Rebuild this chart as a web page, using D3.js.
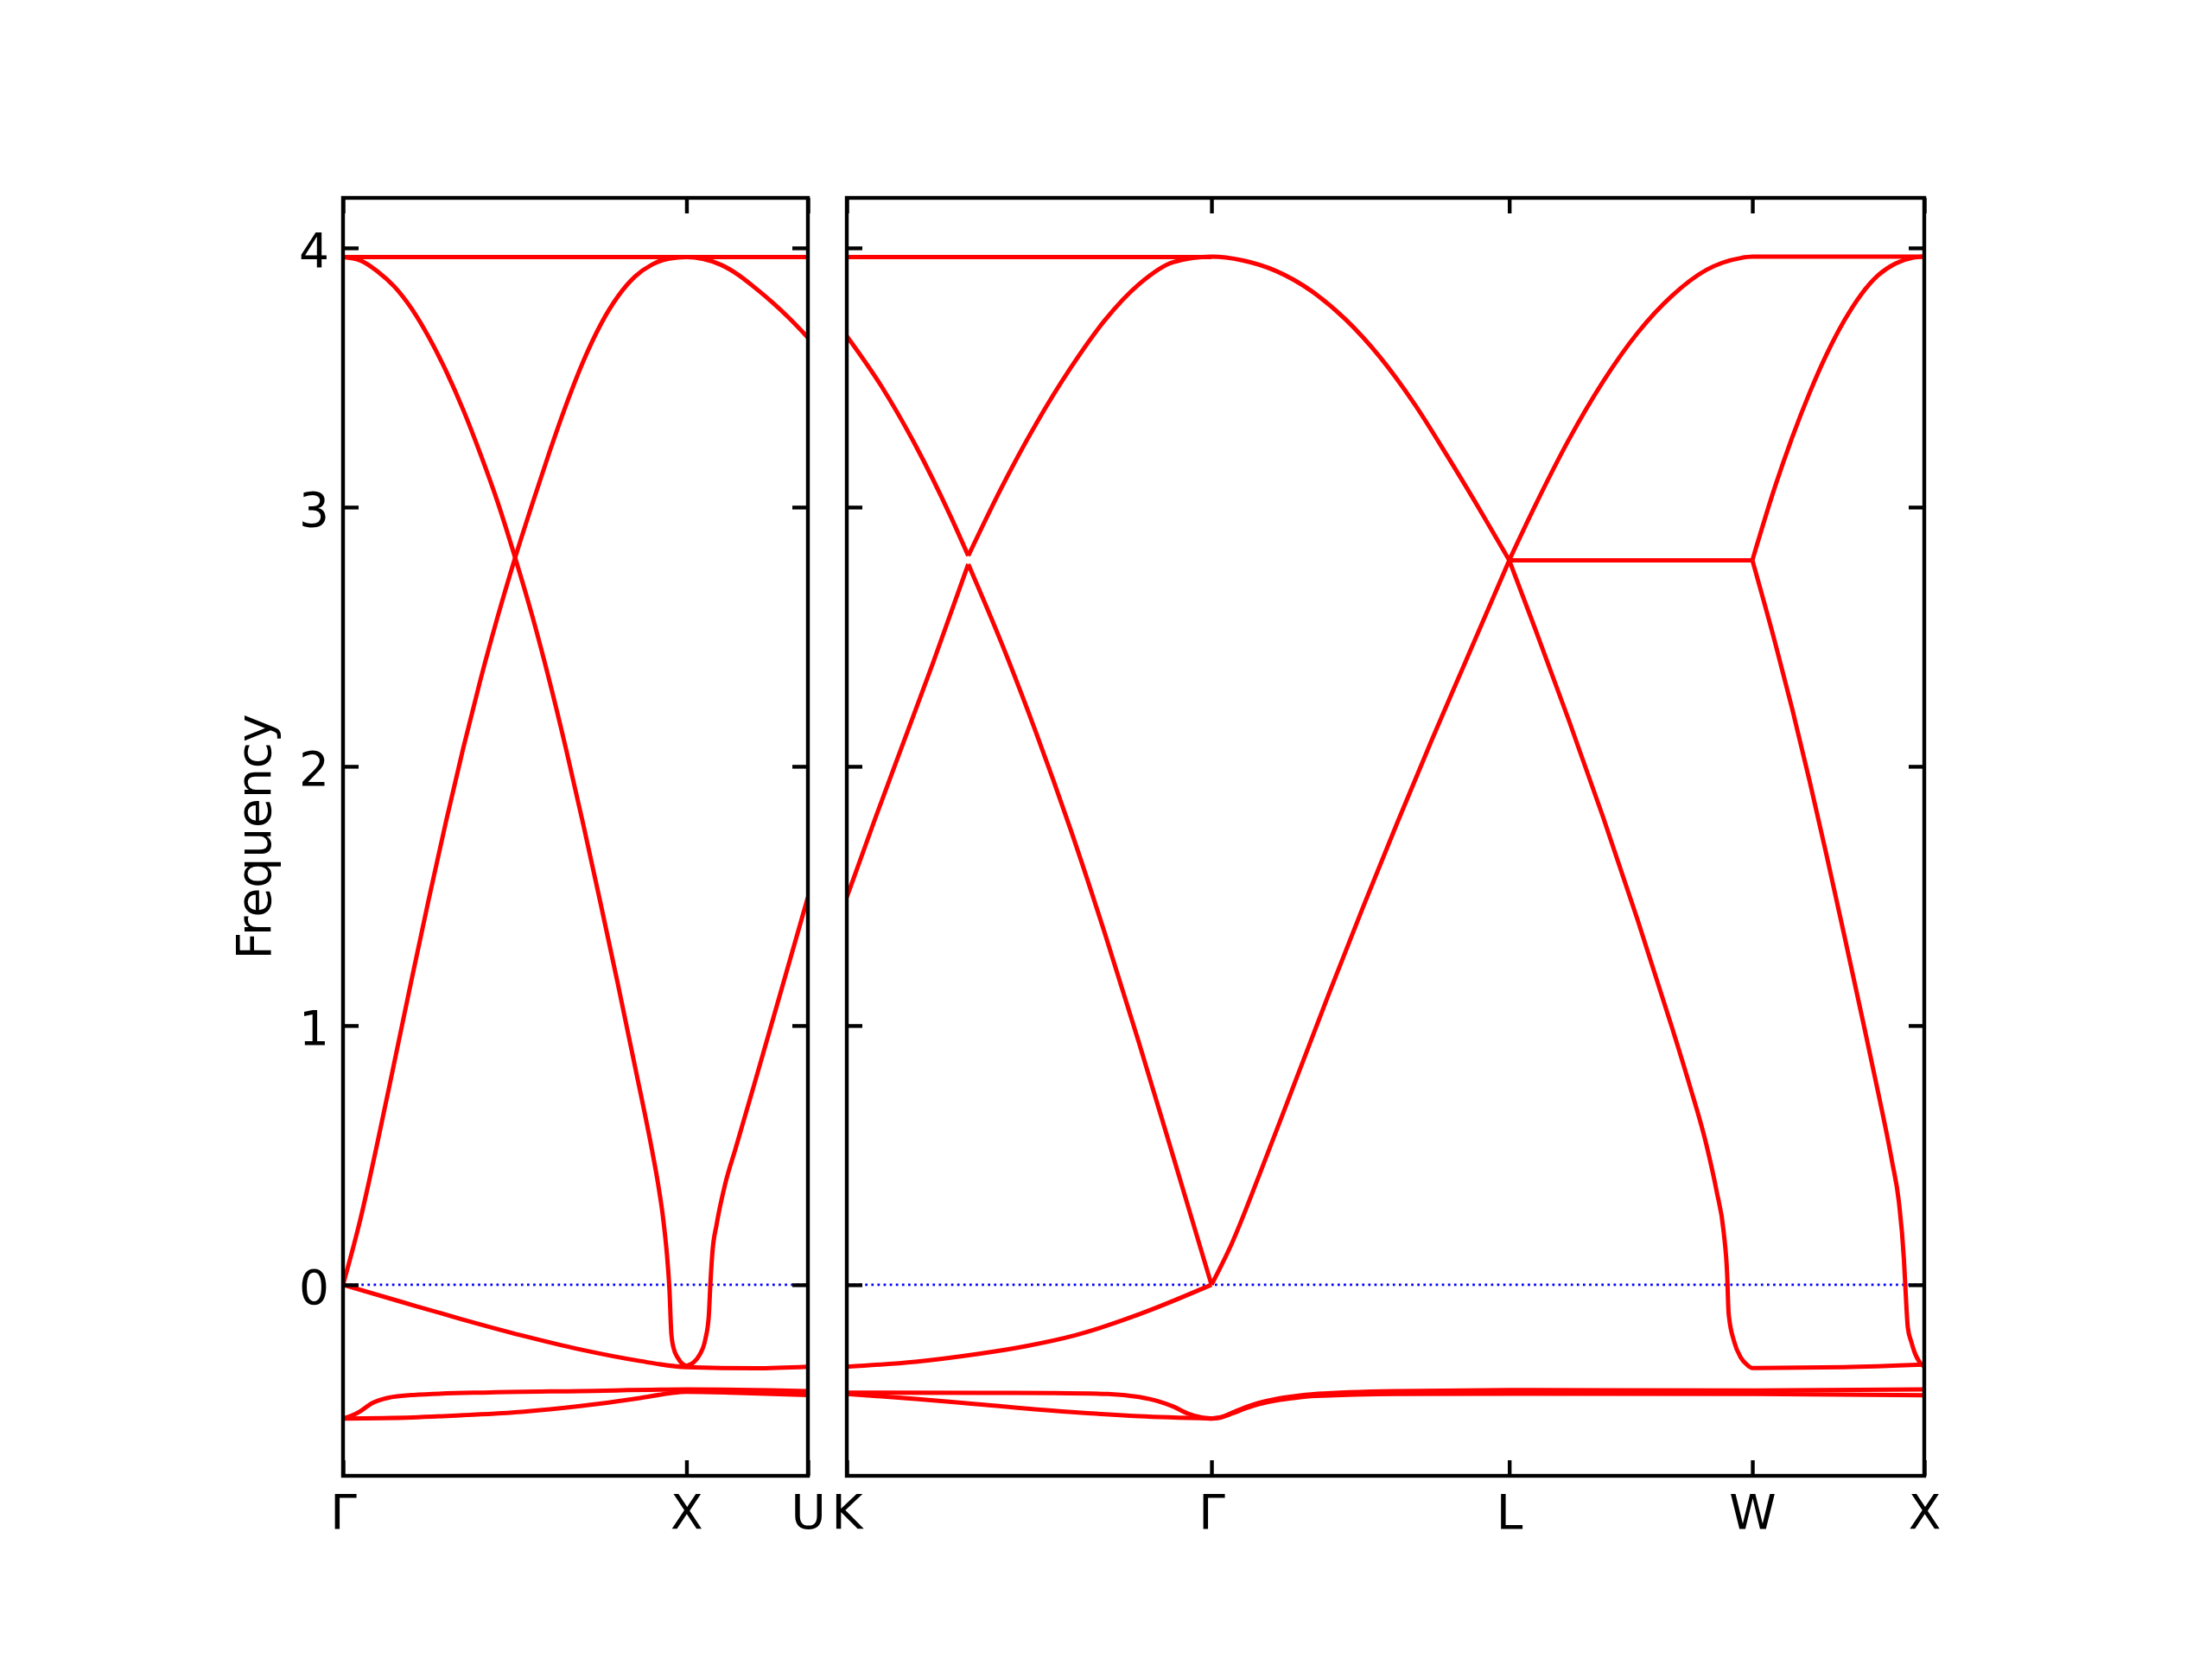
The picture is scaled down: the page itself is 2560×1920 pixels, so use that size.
<!DOCTYPE html>
<html>
<head>
<meta charset="utf-8">
<script src="https://cdn.jsdelivr.net/npm/d3@7"></script>
<style>
  html, body { margin: 0; padding: 0; background: #ffffff; }
  svg { display: block; }
</style>
</head>
<body>
<svg id="chart" width="2560" height="1920"></svg>
<script>
// ---------------- DATA ----------------
const yTicks = [0, 1, 2, 3, 4];
const yLabel = "Frequency";

// Panel 1 : Γ – X – U   (path distance units)
const panel1Labels = ["Γ", "X", "U"];
const panel1Ticks  = [0, 1.0, 1.3536];

// Panel 2 : K – Γ – L – W – X
const panel2Labels = ["K", "Γ", "L", "W", "X"];
const panel2Ticks  = [0, 1.0607, 1.9267, 2.6338, 3.1338];

// ---- panel 1 bands : [k, frequency] ----
const p1TopFlat = [[0, 3.965], [1.3536, 3.965]];
const p1BandDown = [[0,3.965],[0.05,3.952],[0.1,3.91],[0.15,3.85],[0.2,3.765],[0.25,3.655],[0.3,3.525],
  [0.35,3.375],[0.4,3.205],[0.45,3.02],[0.5,2.81],[0.55,2.585],[0.6,2.335],[0.65,2.063],[0.7,1.773],
  [0.75,1.471],[0.8,1.162],[0.85,0.843],[0.9,0.517],[0.916,0.40],[0.933,0.246],[0.9455,0.079],
  [0.9505,-0.02],[0.956,-0.19],[0.9623,-0.243],[0.9749,-0.282],[0.9874,-0.304],[1.0,-0.312],
  [1.01,-0.308],[1.021,-0.299],[1.038,-0.271],[1.055,-0.21],[1.065,-0.121],[1.0695,0],[1.0754,0.123],
  [1.088,0.234],[1.113,0.39],[1.1424,0.523],[1.2,0.785],[1.26,1.062],[1.3536,1.495]];
const p1BandUp = [[0,0],[0.05,0.25],[0.1,0.547],[0.15,0.862],[0.2,1.18],[0.25,1.49],[0.3,1.788],
  [0.35,2.07],[0.4,2.333],[0.45,2.576],[0.5,2.80],[0.55,3.008],[0.6,3.208],[0.65,3.396],[0.7,3.564],
  [0.75,3.704],[0.8,3.812],[0.85,3.889],[0.9,3.936],[0.95,3.959],[1.0,3.965],[1.05,3.957],[1.1,3.935],
  [1.15,3.897],[1.2,3.846],[1.25,3.79],[1.3,3.728],[1.3536,3.654]];
const p1BandNeg = [[0,0],[0.173,-0.067],[0.346,-0.133],[0.519,-0.195],[0.692,-0.25],[0.865,-0.294],
  [1.0,-0.318],[1.2,-0.322],[1.3536,-0.316]];
const p1BottomUpper = [[0,-0.516],[0.025,-0.505],[0.05,-0.488],[0.083,-0.458],[0.128,-0.437],
  [0.205,-0.425],[0.429,-0.415],[0.69,-0.41],[1.0,-0.404],[1.3536,-0.41]];
const p1BottomLower = [[0,-0.516],[0.2,-0.512],[0.35,-0.503],[0.52,-0.49],[0.69,-0.468],
  [0.865,-0.437],[0.95,-0.419],[1.0,-0.413],[1.15,-0.417],[1.3536,-0.425]];

// ---- panel 2 bands ----
const p2TopFlat = [[0, 3.965], [1.0607, 3.965]];
const p2UpperKV = [[0,3.66],[0.1,3.468],[0.2,3.238],[0.3,2.97],[0.3534,2.812]];
const p2UpperVL = [[0.3534,2.812],[0.45,3.075],[0.55,3.32],[0.65,3.535],[0.75,3.72],[0.85,3.86],
  [0.95,3.945],[1.0607,3.966],[1.15,3.952],[1.25,3.91],[1.35,3.835],[1.45,3.725],[1.55,3.58],
  [1.65,3.4],[1.75,3.19],[1.85,2.97],[1.9267,2.795]];
const p2LowerKV = [[0,1.495],[0.0838,1.803],[0.1675,2.102],[0.2513,2.401],[0.3534,2.78]];
const p2LowerVG = [[0.3534,2.78],[0.45,2.476],[0.55,2.132],[0.65,1.76],[0.75,1.358],[0.85,0.933],
  [0.95,0.492],[1.0607,0]];
const p2RiseGL = [[1.0607,0],[1.12,0.16],[1.2,0.424],[1.3,0.769],[1.4,1.115],[1.5,1.452],[1.6,1.779],
  [1.7,2.097],[1.8,2.405],[1.9267,2.795]];
const p2NegKG = [[0,-0.316],[0.2,-0.297],[0.376,-0.268],[0.52,-0.237],[0.664,-0.195],[0.858,-0.11],[1.0607,0]];
const p2BottomUpperKG = [[0,-0.416],[0.4,-0.417],[0.6,-0.418],[0.759,-0.421],[0.85,-0.433],[0.905,-0.449],
  [0.95,-0.47],[0.9925,-0.497],[1.03,-0.511],[1.0607,-0.516]];
const p2BottomLowerKG = [[0,-0.421],[0.2,-0.44],[0.376,-0.46],[0.664,-0.492],[0.85,-0.507],[1.0607,-0.516]];
const p2BottomA = [[1.0607,-0.516],[1.09,-0.51],[1.12,-0.494],[1.16,-0.472],[1.2,-0.455],[1.25,-0.44],
  [1.3,-0.43],[1.364,-0.421],[1.6,-0.41],[1.9267,-0.406],[2.6338,-0.408],[3.1338,-0.404]];
const p2BottomB = [[1.0607,-0.516],[1.09,-0.511],[1.12,-0.497],[1.16,-0.477],[1.2,-0.46],[1.25,-0.446],
  [1.3,-0.437],[1.364,-0.429],[1.6,-0.421],[1.9267,-0.42],[2.6338,-0.421],[3.1338,-0.426]];
const p2FlatLW = [[1.9267,2.795],[2.6338,2.795]];
const p2RiseLW = [[1.9267,2.795],[2.0,3.0],[2.1,3.26],[2.2,3.485],[2.3,3.672],[2.4,3.815],[2.5,3.915],
  [2.6,3.961],[2.6338,3.966],[3.1338,3.966]];
const p2DropLW = [[1.9267,2.795],[2.0,2.538],[2.1,2.178],[2.2,1.803],[2.3,1.408],[2.4,0.993],[2.45,0.776],
  [2.5,0.541],[2.53,0.36],[2.5503,0.205],[2.5605,0.04],[2.5648,-0.11],[2.581,-0.22],[2.6,-0.28],
  [2.617,-0.307],[2.6338,-0.321],[2.9,-0.318],[3.1338,-0.308]];
const p2RiseWX = [[2.6338,2.795],[2.7,3.08],[2.75,3.27],[2.8,3.44],[2.85,3.59],[2.9,3.717],[2.95,3.82],
  [3.0,3.895],[3.05,3.94],[3.1,3.962],[3.1338,3.966]];
const p2DropWX = [[2.6338,2.795],[2.7,2.477],[2.75,2.22],[2.8,1.945],[2.85,1.655],[2.9,1.355],[2.95,1.05],
  [3.0,0.74],[3.04,0.476],[3.06,0.32],[3.0745,0.1],[3.0785,0],[3.086,-0.165],[3.096,-0.22],[3.106,-0.262],
  [3.121,-0.3],[3.1338,-0.316]];

// ---------------- LAYOUT ----------------
const W = 2560, H = 1920;
const plotTop = 229, plotBottom = 1708;
const yDomain = [-0.737, 4.193];
const tickLen = 18;
const fontSize = 55;
const fontFamily = "'DejaVu Sans', 'Liberation Sans', sans-serif";

const panels = [
  { left: 397, right: 935, kMax: panel1Ticks[panel1Ticks.length - 1], ticks: panel1Ticks, labels: panel1Labels,
    showY: true, bands: [p1TopFlat, p1BandDown, p1BandUp, p1BandNeg, p1BottomUpper, p1BottomLower] },
  { left: 980, right: 2227, kMax: panel2Ticks[panel2Ticks.length - 1], ticks: panel2Ticks, labels: panel2Labels,
    showY: false, bands: [p2TopFlat, p2UpperKV, p2UpperVL, p2LowerKV, p2LowerVG, p2RiseGL, p2NegKG,
      p2BottomUpperKG, p2BottomLowerKG, p2BottomA, p2BottomB, p2FlatLW, p2RiseLW, p2DropLW, p2RiseWX, p2DropWX] }
];

const svg = d3.select("#chart");
svg.append("rect").attr("width", W).attr("height", H).attr("fill", "#ffffff");

const y = d3.scaleLinear().domain(yDomain).range([plotBottom, plotTop]);

function styleAxis(g) {
  g.select(".domain").remove();
  g.attr("color", "#000").attr("font-family", fontFamily).attr("font-size", fontSize);
  g.selectAll(".tick line").attr("stroke-width", 4.4);
  g.selectAll(".tick text").attr("fill", "#000");
}

panels.forEach((p, i) => {
  const x = d3.scaleLinear().domain([0, p.kMax]).range([p.left, p.right]);
  const clipId = "clip" + i;
  svg.append("clipPath").attr("id", clipId)
    .append("rect").attr("x", p.left).attr("y", plotTop)
    .attr("width", p.right - p.left).attr("height", plotBottom - plotTop);

  const plot = svg.append("g").attr("clip-path", `url(#${clipId})`);

  // zero reference line (blue dotted)
  plot.append("line")
    .attr("x1", x(0)).attr("x2", x(p.kMax))
    .attr("y1", y(0)).attr("y2", y(0))
    .attr("stroke", "#0000ff").attr("stroke-width", 2.7)
    .attr("stroke-dasharray", "2.7,4.4");

  const line = d3.line()
    .x(d => x(d[0])).y(d => y(d[1]))
    .curve(d3.curveMonotoneX);

  plot.selectAll("path.band").data(p.bands).join("path")
    .attr("class", "band")
    .attr("d", line)
    .attr("fill", "none")
    .attr("stroke", "#ff0000")
    .attr("stroke-width", 5)
    .attr("stroke-linejoin", "round");

  // axes (ticks pointing inward on all four sides)
  const left = svg.append("g").attr("transform", `translate(${p.left},0)`)
    .call(d3.axisLeft(y).tickValues(yTicks).tickSizeInner(-tickLen).tickSizeOuter(0).tickPadding(16)
      .tickFormat(p.showY ? d3.format("d") : () => ""));
  styleAxis(left);
  left.selectAll(".tick text").attr("dy", "0.4em");

  const right = svg.append("g").attr("transform", `translate(${p.right},0)`)
    .call(d3.axisRight(y).tickValues(yTicks).tickSizeInner(-tickLen).tickSizeOuter(0).tickFormat(() => ""));
  styleAxis(right);

  const bottom = svg.append("g").attr("transform", `translate(0,${plotBottom})`)
    .call(d3.axisBottom(x).tickValues(p.ticks).tickSizeInner(-tickLen).tickSizeOuter(0).tickPadding(22)
      .tickFormat((d, j) => p.labels[j]));
  styleAxis(bottom);

  const top = svg.append("g").attr("transform", `translate(0,${plotTop})`)
    .call(d3.axisTop(x).tickValues(p.ticks).tickSizeInner(-tickLen).tickSizeOuter(0).tickFormat(() => ""));
  styleAxis(top);

  // frame
  svg.append("rect")
    .attr("x", p.left).attr("y", plotTop)
    .attr("width", p.right - p.left).attr("height", plotBottom - plotTop)
    .attr("fill", "none").attr("stroke", "#000").attr("stroke-width", 4.4);
});

// y-axis title
svg.append("text")
  .attr("transform", `translate(313,${(plotTop + plotBottom) / 2}) rotate(-90)`)
  .attr("text-anchor", "middle")
  .attr("font-family", fontFamily)
  .attr("font-size", fontSize)
  .attr("fill", "#000")
  .text(yLabel);
</script>
</body>
</html>
